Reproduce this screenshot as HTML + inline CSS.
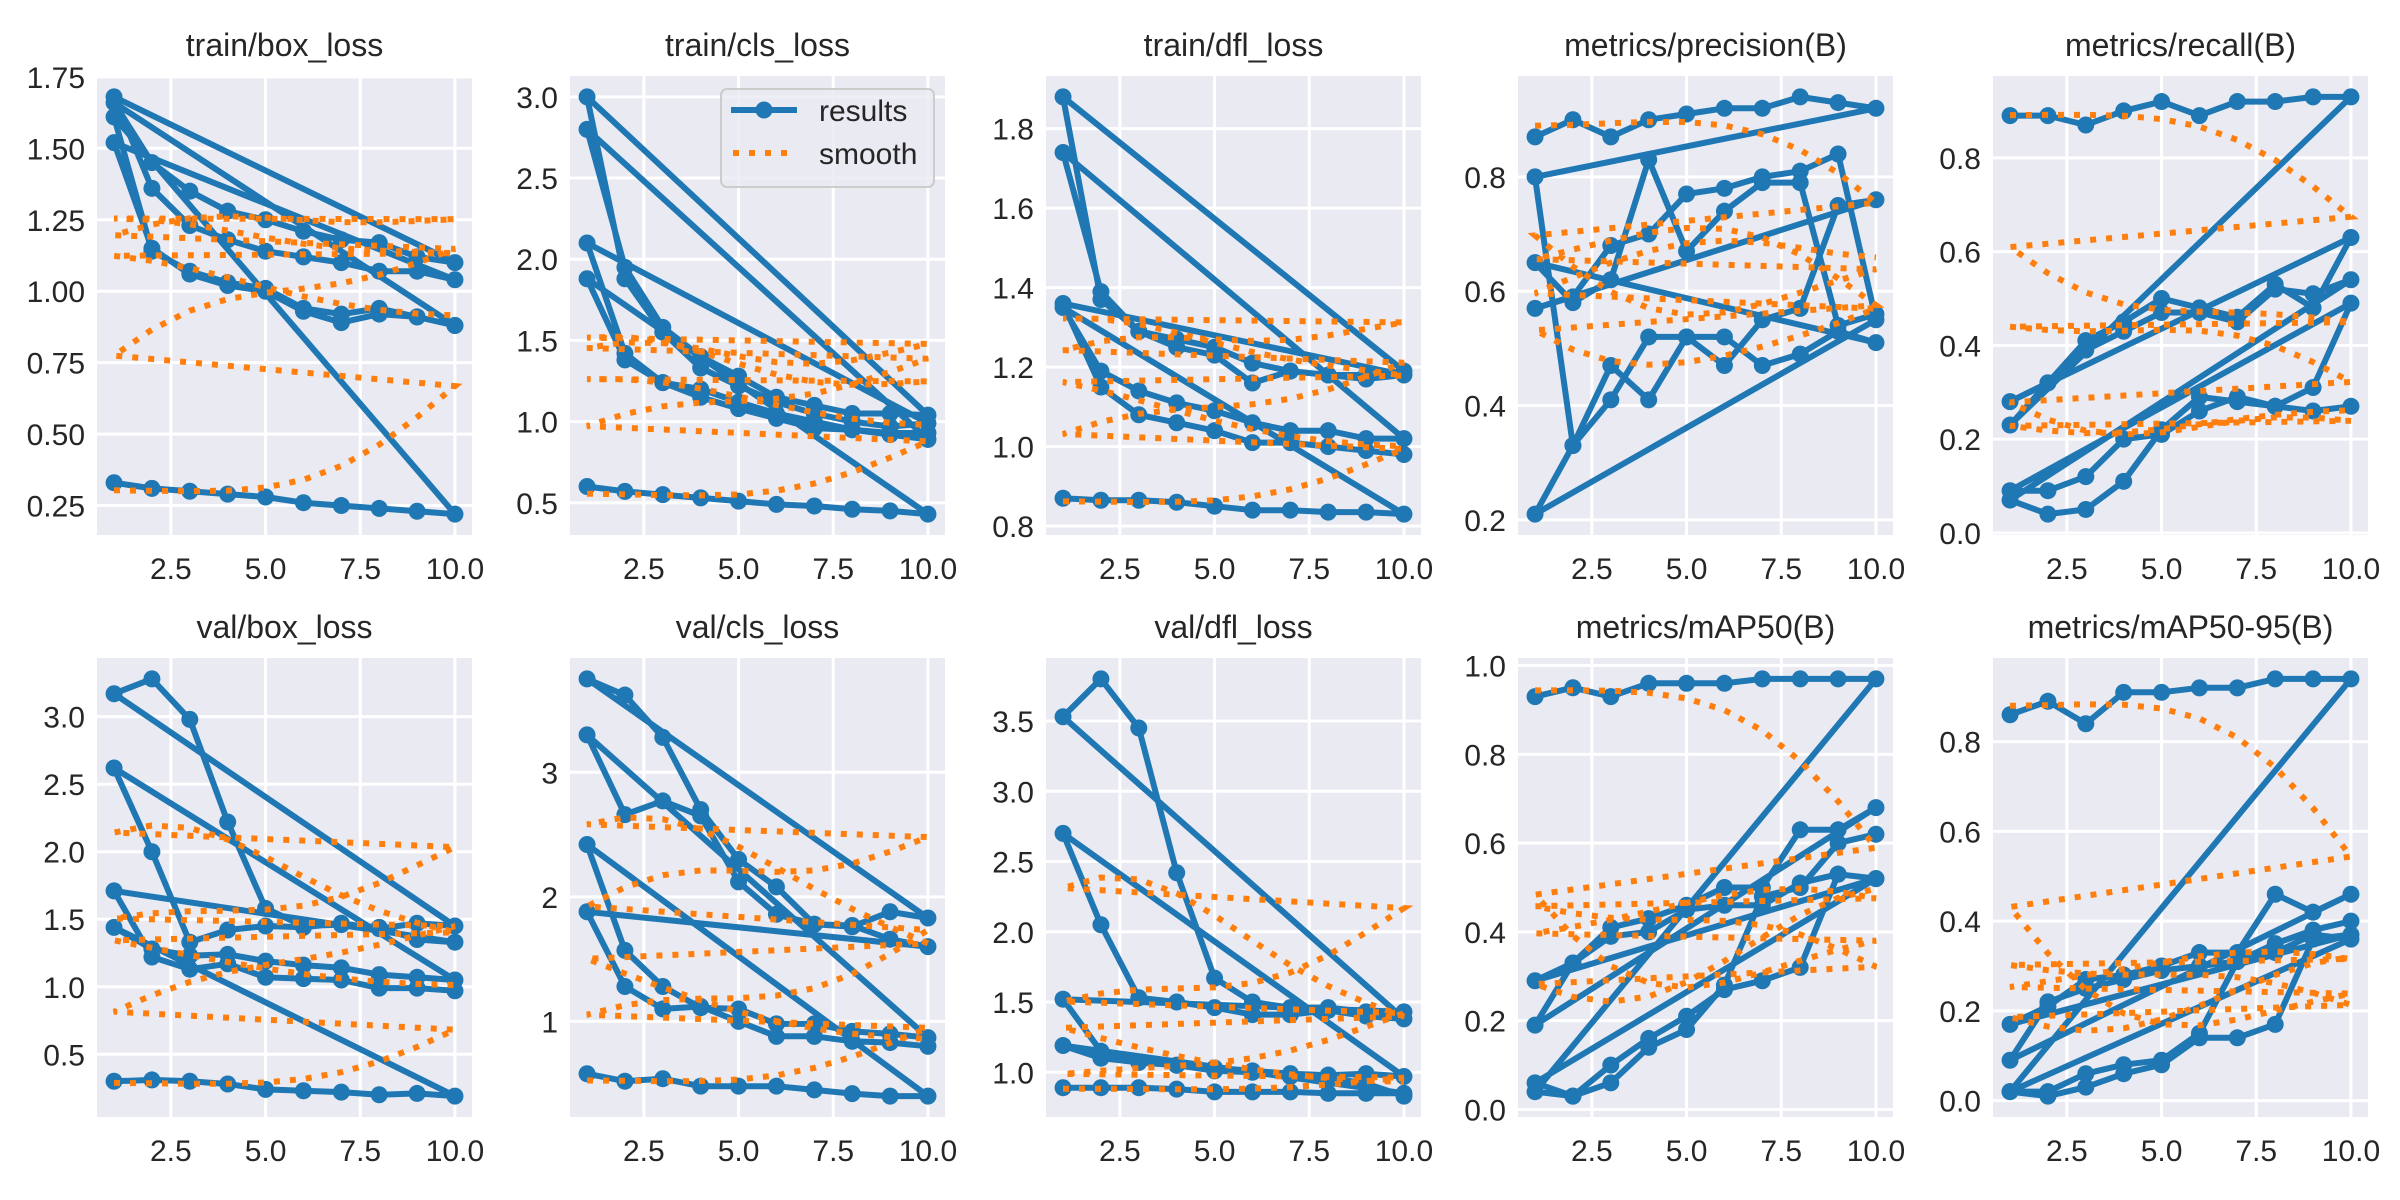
<!DOCTYPE html>
<html><head><meta charset="utf-8">
<style>
html,body{margin:0;padding:0;background:#fff;}
svg{display:block;font-family:"Liberation Sans",Arial,sans-serif;}
</style></head>
<body>
<svg id="fig" width="2400" height="1200" viewBox="0 0 2400 1200" xmlns="http://www.w3.org/2000/svg"></svg>
<script>
const epochs=[1,2,3,4,5,6,7,8,9,10];
const titles=["train/box_loss","train/cls_loss","train/dfl_loss","metrics/precision(B)","metrics/recall(B)","val/box_loss","val/cls_loss","val/dfl_loss","metrics/mAP50(B)","metrics/mAP50-95(B)"];
const trainBoxLoss=[.33,.31,.30,.29,.28,.26,.25,.24,.23,.22, 1.61,1.14,1.07,1.03,1.01,.94,.92,.94,.91,.88, 1.66,1.45,1.35,1.28,1.25,1.21,1.18,1.17,1.12,1.10, 1.68,1.36,1.23,1.18,1.14,1.12,1.10,1.07,1.07,1.04, 1.52,1.15,1.06,1.02,1.00,.93,.89,.92,.91,.88];
const trainClsLoss=[.60,.57,.55,.53,.51,.49,.48,.46,.45,.43, 1.88,1.38,1.24,1.15,1.08,1.02,.96,.95,.92,.89, 2.80,1.95,1.58,1.40,1.28,1.15,1.10,1.05,1.05,1.04, 3.00,1.88,1.55,1.33,1.22,1.12,1.05,1.00,.97,.99, 2.10,1.42,1.24,1.20,1.12,1.05,1.00,.95,.93,.93];
const trainDflLoss=[.87,.865,.865,.86,.85,.84,.84,.835,.835,.83, 1.35,1.19,1.14,1.11,1.09,1.06,1.04,1.04,1.02,1.02, 1.74,1.39,1.29,1.27,1.25,1.21,1.19,1.18,1.18,1.19, 1.88,1.37,1.29,1.25,1.23,1.16,1.19,1.18,1.17,1.18, 1.36,1.15,1.08,1.06,1.04,1.01,1.01,1.00,.99,.98];
const precision=[.87,.90,.87,.90,.91,.92,.92,.94,.93,.92, .80,.33,.41,.52,.52,.47,.55,.57,.75,.76, .57,.59,.68,.70,.77,.78,.80,.81,.84,.55, .21,.33,.47,.41,.52,.52,.47,.49,.53,.51, .65,.58,.62,.83,.67,.74,.79,.79,.54,.56];
const recall=[.89,.89,.87,.90,.92,.89,.92,.92,.93,.93, .23,.32,.41,.45,.50,.48,.46,.53,.48,.63, .28,.32,.39,.43,.47,.47,.45,.52,.51,.54, .07,.04,.05,.11,.22,.29,.28,.27,.31,.49, .09,.09,.12,.20,.21,.26,.29,.27,.26,.27];
const valBoxLoss=[.30,.31,.30,.28,.24,.23,.22,.20,.21,.19, 1.44,1.28,1.23,1.24,1.19,1.16,1.14,1.09,1.07,1.05, 2.62,2.00,1.33,1.42,1.45,1.44,1.47,1.43,1.47,1.45, 3.17,3.28,2.98,2.22,1.58,1.45,1.46,1.44,1.35,1.33, 1.71,1.22,1.13,1.17,1.07,1.06,1.05,.99,.99,.97];
const valClsLoss=[.58,.52,.54,.48,.48,.48,.45,.42,.40,.40, 2.42,1.57,1.28,1.11,1.10,.98,.98,.92,.90,.87, 3.30,2.66,2.77,2.65,2.12,1.86,1.78,1.76,1.88,1.83, 3.75,3.62,3.28,2.70,2.30,2.08,1.78,1.77,1.66,1.60, 1.88,1.28,1.10,1.12,1.00,.88,.88,.84,.83,.80];
const valDflLoss=[.89,.89,.89,.88,.86,.86,.86,.85,.85,.85, 1.19,1.10,1.07,1.05,1.03,1.01,.99,.98,.99,.97, 2.70,2.05,1.53,1.50,1.46,1.41,1.41,1.44,1.40,1.38, 3.53,3.80,3.45,2.42,1.67,1.50,1.46,1.46,1.43,1.43, 1.52,1.15,1.07,1.05,1.01,1.00,.97,.96,.92,.83];
const mAP50=[.93,.95,.93,.96,.96,.96,.97,.97,.97,.97, .04,.03,.10,.16,.21,.27,.29,.32,.53,.52, .29,.33,.41,.43,.46,.50,.50,.63,.63,.68, .19,.33,.39,.40,.45,.46,.46,.51,.53,.52, .06,.03,.06,.14,.18,.28,.48,.50,.60,.62];
const mAP5095=[.86,.89,.84,.91,.91,.92,.92,.94,.94,.94, .02,.01,.03,.06,.08,.14,.14,.17,.36,.37, .17,.21,.27,.28,.30,.33,.33,.46,.42,.46, .09,.22,.25,.27,.29,.30,.31,.33,.37,.36, .02,.02,.06,.08,.09,.15,.31,.35,.38,.40];
const seriesList=[trainBoxLoss,trainClsLoss,trainDflLoss,precision,recall,valBoxLoss,valClsLoss,valDflLoss,mAP50,mAP5095];
const yTicks=[[0.25,0.5,0.75,1.0,1.25,1.5,1.75],[0.5,1.0,1.5,2.0,2.5,3.0],[0.8,1.0,1.2,1.4,1.6,1.8],[0.2,0.4,0.6,0.8],[0.0,0.2,0.4,0.6,0.8],[0.5,1.0,1.5,2.0,2.5,3.0],[1,2,3],[1.0,1.5,2.0,2.5,3.0,3.5],[0.0,0.2,0.4,0.6,0.8,1.0],[0.0,0.2,0.4,0.6,0.8]];
const yTickLabels=[["0.25","0.50","0.75","1.00","1.25","1.50","1.75"],["0.5","1.0","1.5","2.0","2.5","3.0"],["0.8","1.0","1.2","1.4","1.6","1.8"],["0.2","0.4","0.6","0.8"],["0.0","0.2","0.4","0.6","0.8"],["0.5","1.0","1.5","2.0","2.5","3.0"],["1","2","3"],["1.0","1.5","2.0","2.5","3.0","3.5"],["0.0","0.2","0.4","0.6","0.8","1.0"],["0.0","0.2","0.4","0.6","0.8"]];
const xTicks=[2.5,5.0,7.5,10.0];
const xTickLabels=["2.5","5.0","7.5","10.0"];

const NS="http://www.w3.org/2000/svg";
const svg=document.getElementById('fig');
const colLeft=[97,570,1046,1518,1993], rowTop=[76,658], axW=375, axH=459;
function mk(tag,attrs,parent){const e=document.createElementNS(NS,tag);for(const k in attrs)e.setAttribute(k,attrs[k]);(parent||svg).appendChild(e);return e;}
function gauss(y,sigma){const r=Math.round(4*sigma),w=[];let s=0;for(let i=-r;i<=r;i++){const v=Math.exp(-0.5*i*i/(sigma*sigma));w.push(v);s+=v;}
 const n=y.length;const idx=i=>{while(i<0||i>=n){if(i<0)i=-i-1;if(i>=n)i=2*n-i-1;}return i;};
 return y.map((_,k)=>{let a=0;for(let j=-r;j<=r;j++)a+=w[j+r]*y[idx(k+j)];return a/s;});}

seriesList.forEach((ys,p)=>{
 const L=colLeft[p%5],T=rowTop[Math.floor(p/5)];
 const xs=ys.map((_,i)=>epochs[i%epochs.length]);
 const sm=gauss(ys,3);
 let mn=Math.min(...ys,...sm),mx=Math.max(...ys,...sm);const pad=(mx-mn)*0.05;mn-=pad;mx+=pad;
 const xmin=1-0.45,xmax=10+0.45;
 const X=v=>L+(v-xmin)/(xmax-xmin)*axW, Y=v=>T+axH-(v-mn)/(mx-mn)*axH;
 const g=mk('g',{});
 
 
 const bg=mk('rect',{x:L,y:T,width:axW,height:axH,fill:'#eaeaf2'},g);
 
 
 xTicks.forEach((t,i)=>{
  const gl=mk('line',{x1:X(t),x2:X(t),y1:T,y2:T+axH,stroke:'#fff','stroke-width':3},g);
  
  
  const tx=mk('text',{x:X(t),y:T+axH+44,'text-anchor':'middle','font-size':30,fill:'#262626'},g);
  tx.textContent=xTickLabels[i];
  
  
 });
 yTicks[p].forEach((t,i)=>{
  const gl=mk('line',{x1:L,x2:L+axW,y1:Y(t),y2:Y(t),stroke:'#fff','stroke-width':3},g);
  
  
  const tx=mk('text',{x:L-12,y:Y(t)+11,'text-anchor':'end','font-size':30,fill:'#262626'},g);
  tx.textContent=yTickLabels[p][i];
  
  
 });
 const tt=mk('text',{x:L+axW/2,y:T-20,'text-anchor':'middle','font-size':32,fill:'#262626'},g);
 tt.textContent=titles[p];
 
 
 const pts=ys.map((v,i)=>X(xs[i]).toFixed(1)+','+Y(v).toFixed(1)).join(' ');
 const rl=mk('polyline',{points:pts,fill:'none',stroke:'#1f77b4','stroke-width':6,'stroke-linejoin':'round'},g);
 
 
 ys.forEach((v,i)=>{
  const c=mk('circle',{cx:X(xs[i]),cy:Y(v),r:8.5,fill:'#1f77b4'},g);
  
  
 });
 const sp=sm.map((v,i)=>X(xs[i]).toFixed(1)+','+Y(v).toFixed(1)).join(' ');
 const sl=mk('polyline',{points:sp,fill:'none',stroke:'#ff7f0e','stroke-width':6,'stroke-dasharray':'6 10'},g);
 
 
 if(p===1){
  const lg=mk('g',{},g);
  
  
  mk('rect',{x:721,y:89,width:213,height:98,rx:6,fill:'#eaeaf2','fill-opacity':0.8,stroke:'#cccccc','stroke-width':2},lg);
  const l1=mk('line',{x1:731,x2:797,y1:110,y2:110,stroke:'#1f77b4','stroke-width':6},lg);
  
  
  mk('circle',{cx:764,cy:110,r:8.5,fill:'#1f77b4'},lg);
  const t1=mk('text',{x:819,y:121,'font-size':30,fill:'#262626'},lg);t1.textContent='results';
  
  
  const l2=mk('line',{x1:733,x2:797,y1:153,y2:153,stroke:'#ff7f0e','stroke-width':6,'stroke-dasharray':'6 10'},lg);
  
  
  const t2=mk('text',{x:819,y:164,'font-size':30,fill:'#262626'},lg);t2.textContent='smooth';
  
  
 }
});
</script>
</body></html>
